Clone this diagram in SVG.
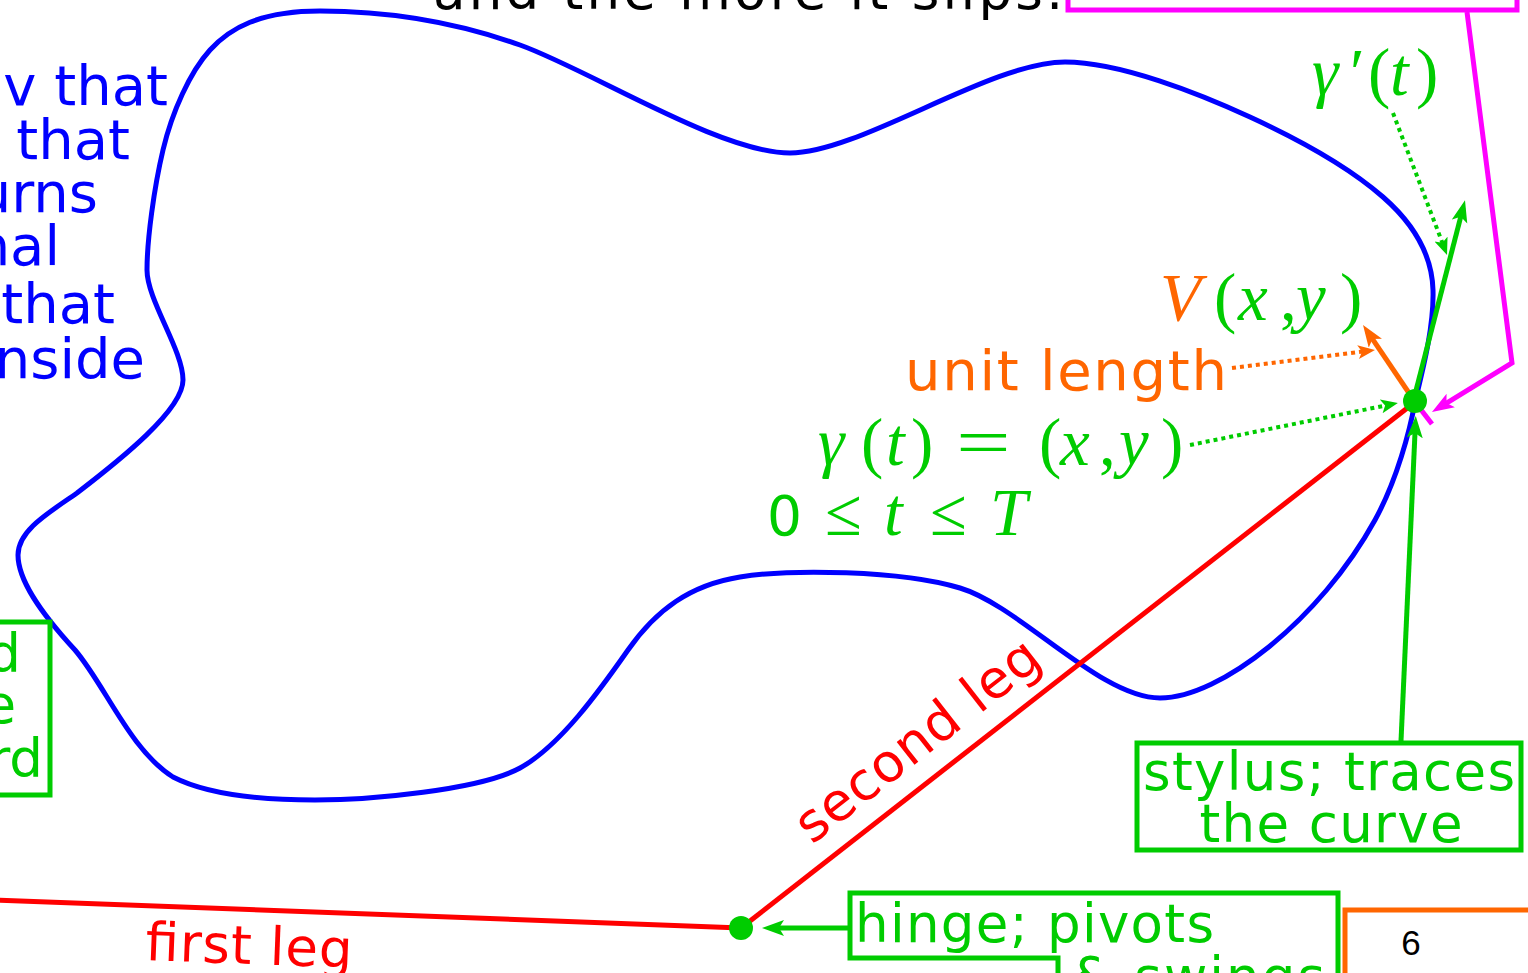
<svg xmlns="http://www.w3.org/2000/svg" width="1528" height="973" viewBox="0 0 1528 973">
<style>
.sans{font-family:"DejaVu Sans","Verdana",sans-serif;font-size:53px}
.math{font-family:"Liberation Serif","Times New Roman",serif;font-size:67px}
.it{font-style:italic}
.g{fill:#00cc00}
.o{fill:#ff6600}
.b{fill:#0000ff}
.r{fill:#ff0000}
.k{fill:#000000}
.box{fill:none;stroke-width:5}
.solid{fill:none;stroke-width:5}
.dot{fill:none;stroke-width:4;stroke-dasharray:4 4}
</style>
<defs>
<marker id="ahG" markerUnits="userSpaceOnUse" markerWidth="24" markerHeight="18" refX="14" refY="8" orient="auto"><path d="M0,0 L22,8 L0,16 L5,8 z" fill="#00cc00"/></marker>
<marker id="ahGs" markerUnits="userSpaceOnUse" markerWidth="20" markerHeight="16" refX="11" refY="7" orient="auto"><path d="M0,0 L17,7 L0,14 L4,7 z" fill="#00cc00"/></marker>
<marker id="ahO" markerUnits="userSpaceOnUse" markerWidth="24" markerHeight="18" refX="14" refY="8" orient="auto"><path d="M0,0 L22,8 L0,16 L5,8 z" fill="#ff6600"/></marker>
<marker id="ahOs" markerUnits="userSpaceOnUse" markerWidth="20" markerHeight="16" refX="11" refY="7" orient="auto"><path d="M0,0 L17,7 L0,14 L4,7 z" fill="#ff6600"/></marker>
<marker id="ahM" markerUnits="userSpaceOnUse" markerWidth="24" markerHeight="18" refX="14" refY="8" orient="auto"><path d="M0,0 L22,8 L0,16 L5,8 z" fill="#ff00ff"/></marker>
</defs>
<rect x="0" y="0" width="1528" height="973" fill="#ffffff"/>

<g id="curve">
<path d="M1415,402 C1424,365 1434,325 1433,290 C1432,255 1415,225 1383,197 C1351,169 1300,140 1250,117 C1200,94 1120,62 1065,62 C990,62 860,153 790,153 C720,153 590,70 520,45 C450,20 380,11 320,11 C260,11 230,28 210,50 C190,72 172,112 163,150 C154,188 147,240 147,270 C147,300 183,350 183,380 C183,410 120,460 77,493 C50,512 18,530 18,555 C18,580 40,612 75,650 C105,685 130,750 173,777 C206,794 260,800 315,800 C370,800 480,790 520,768 C560,746 600,690 628,650 C656,610 690,585 740,577 C790,569 900,570 960,588 C1020,606 1100,698 1160,698 C1220,698 1320,620 1375,520 C1397,480 1410,430 1415,402 Z" fill="none" stroke="#0000ff" stroke-width="5"/>
</g>

<g id="top-text">
<text class="sans k" x="433" y="9" textLength="630">and the more it slips.</text>
</g>

<g id="left-text" style="font-size:56px">
<text class="sans b" style="font-size:56px" text-anchor="end" x="168" y="105">v that</text>
<text class="sans b" style="font-size:56px" text-anchor="end" x="130" y="159">that</text>
<text class="sans b" style="font-size:56px" text-anchor="end" x="98" y="212">urns</text>
<text class="sans b" style="font-size:56px" text-anchor="end" x="60" y="265">nal</text>
<text class="sans b" style="font-size:56px" text-anchor="end" x="115" y="323">that</text>
<text class="sans b" style="font-size:56px" text-anchor="end" x="145" y="378">nside</text>
</g>

<g id="left-box">
<path class="box" stroke="#00cc00" d="M-10,622 L50,622 L50,795 L-10,795"/>
<text class="sans g" text-anchor="end" x="21" y="672">d</text>
<text class="sans g" text-anchor="end" x="16" y="723">e</text>
<text class="sans g" text-anchor="end" x="43" y="777">rd</text>
</g>

<g id="magenta-box">
<path class="box" stroke="#ff00ff" d="M1068,-5 L1068,10 L1517,10 L1517,-5"/>
</g>

<g id="connectors">
<line x1="-5" y1="900" x2="741" y2="928" stroke="#ff0000" stroke-width="5"/>
<line x1="741" y1="928" x2="1415" y2="402" stroke="#ff0000" stroke-width="5"/>
<line x1="1415" y1="402" x2="1432" y2="424" stroke="#ff00ff" stroke-width="5"/>
<polyline class="solid" stroke="#ff00ff" points="1467,12 1512,363 1438.8,407.8" marker-end="url(#ahM)"/>
<line class="solid" stroke="#00cc00" x1="1413" y1="402" x2="1463" y2="208" marker-end="url(#ahG)"/>
<line class="solid" stroke="#00cc00" x1="1401" y1="741" x2="1415.4" y2="424" marker-end="url(#ahG)"/>
<line class="solid" stroke="#00cc00" x1="850" y1="928" x2="770" y2="928" marker-end="url(#ahG)"/>
<line class="solid" stroke="#ff6600" x1="1411" y1="396" x2="1367.5" y2="331.6" marker-end="url(#ahO)"/>
<line class="dot" stroke="#ff6600" x1="1232" y1="368" x2="1369" y2="350.8" marker-end="url(#ahOs)"/>
<line class="dot" stroke="#00cc00" x1="1190" y1="445" x2="1392" y2="404.2" marker-end="url(#ahGs)"/>
<line class="dot" stroke="#00cc00" x1="1393" y1="113" x2="1444.9" y2="249.4" marker-end="url(#ahGs)"/>
</g>

<g id="stylus-dot">
<circle cx="1415" cy="401" r="12" fill="#00cc00"/>
</g>
<g id="hinge-dot">
<circle cx="741" cy="928" r="12" fill="#00cc00"/>
</g>

<g id="gamma-prime">
<text class="math g"><tspan class="it" x="1312" y="95">γ</tspan><tspan x="1350" y="95">′</tspan><tspan x="1368" y="95">(</tspan><tspan class="it" x="1390" y="95">t</tspan><tspan x="1416" y="95">)</tspan></text>
</g>

<g id="V-label">
<text class="math g"><tspan class="it o" x="1160" y="320">V</tspan><tspan x="1214" y="320">(</tspan><tspan class="it" x="1238" y="320">x</tspan><tspan x="1280" y="320">,</tspan><tspan class="it" x="1296" y="320">y</tspan><tspan x="1340" y="320">)</tspan></text>
</g>

<g id="unit-length">
<text class="sans o" style="font-size:56px" x="905" y="390" textLength="322">unit length</text>
</g>

<g id="gamma-label">
<text class="math g"><tspan class="it" x="818" y="465">γ</tspan><tspan x="861" y="465">(</tspan><tspan class="it" x="886" y="465">t</tspan><tspan x="911" y="465">)</tspan></text>
<text class="math g" transform="translate(956,465) scale(1.45,1)" x="0" y="0">=</text>
<text class="math g"><tspan x="1039" y="465">(</tspan><tspan class="it" x="1060" y="465">x</tspan><tspan x="1099" y="465">,</tspan><tspan class="it" x="1119" y="465">y</tspan><tspan x="1161" y="465">)</tspan></text>
</g>

<g id="range-label">
<text class="sans g" style="font-size:55px" x="767" y="535">0</text>
<text class="math g"><tspan x="825" y="535">≤</tspan><tspan class="it" x="884" y="535">t</tspan><tspan x="930" y="535">≤</tspan><tspan class="it" x="990" y="535">T</tspan></text>
</g>

<g id="second-leg-label">
<text class="sans r" x="812" y="845" textLength="295" transform="rotate(-37.97 812 845)">second leg</text>
</g>

<g id="first-leg-label">
<text class="sans r" x="145" y="960" textLength="207" transform="rotate(2.17 145 960)">first leg</text>
</g>

<g id="stylus-box">
<rect class="box" stroke="#00cc00" x="1137" y="743" width="384" height="107"/>
<text class="sans g" text-anchor="middle" x="1329" y="790" textLength="372">stylus; traces</text>
<text class="sans g" text-anchor="middle" x="1331" y="842" textLength="263">the curve</text>
</g>

<g id="hinge-box">
<path class="box" stroke="#00cc00" d="M1058,985 L1058,958 L850,958 L850,893 L1338,893 L1338,985"/>
<text class="sans g" x="855" y="942" textLength="359">hinge; pivots</text>
<text class="sans g" x="1072" y="995" textLength="253">&amp; swings</text>
</g>

<g id="page-box">
<path class="box" stroke="#ff6600" d="M1345,985 L1345,910 L1535,910"/>
<text x="1411" y="955" text-anchor="middle" style="font-family:'Liberation Sans',Arial,sans-serif;font-size:35px" fill="#000000">6</text>
</g>
</svg>
